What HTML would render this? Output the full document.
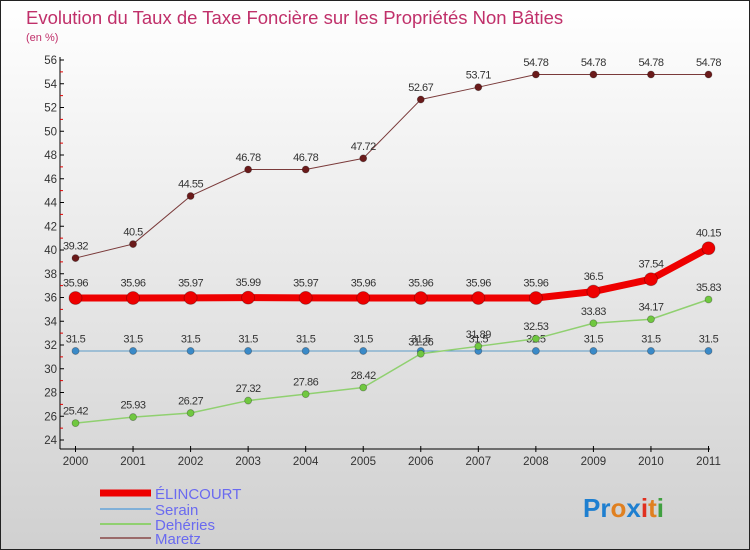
<!DOCTYPE html>
<html><head><meta charset="utf-8"><style>
body{margin:0;}
#c{position:relative;width:750px;height:550px;overflow:hidden;font-family:"Liberation Sans",sans-serif;}
</style></head><body>
<div id="c">
<svg id="s" width="750" height="550" xmlns="http://www.w3.org/2000/svg">
<defs><linearGradient id="bg" x1="0" y1="0" x2="0" y2="1"><stop offset="0" stop-color="#ffffff"/><stop offset="1" stop-color="#d0d0d0"/></linearGradient></defs>
<rect x="0.5" y="0.5" width="749" height="549" fill="url(#bg)" stroke="#222"/>
<text x="26" y="24" font-size="18.5" fill="#c0306a">Evolution du Taux de Taxe Foncière sur les Propriétés Non Bâties</text>
<text x="26" y="41" font-size="11" fill="#c0306a">(en %)</text>
<g id="axes"></g><g id="series"></g><g id="legend"></g>
<g font-size="26" font-weight="bold" font-family="'Liberation Sans',sans-serif">
<text x="583" y="517"><tspan fill="#1e7fd0">Pr</tspan><tspan fill="#e08020">o</tspan><tspan fill="#1e7fd0">x</tspan><tspan fill="#e03020">i</tspan><tspan fill="#e08020">t</tspan><tspan fill="#40a040">i</tspan></text>
</g>
</svg>
</div>
<script>
const years=["2000","2001","2002","2003","2004","2005","2006","2007","2008","2009","2010","2011"];
const yTicks=[24,26,28,30,32,34,36,38,40,42,44,46,48,50,52,54,56];
const elincourt=[35.96,35.96,35.97,35.99,35.97,35.96,35.96,35.96,35.96,36.5,37.54,40.15];
const serain=[31.5,31.5,31.5,31.5,31.5,31.5,31.5,31.5,31.5,31.5,31.5,31.5];
const deheries=[25.42,25.93,26.27,27.32,27.86,28.42,31.26,31.89,32.53,33.83,34.17,35.83];
const maretz=[39.32,40.5,44.55,46.78,46.78,47.72,52.67,53.71,54.78,54.78,54.78,54.78];
const NS="http://www.w3.org/2000/svg";
const X=i=>75.5+i*(708.5-75.5)/(years.length-1);
const Y=v=>440-(v-24)*(380/32);
function mk(tag,attrs,parent){const e=document.createElementNS(NS,tag);for(const k in attrs)e.setAttribute(k,attrs[k]);parent.appendChild(e);return e;}
const ax=document.getElementById('axes');
let e=mk('line',{x1:60,y1:57,x2:60,y2:449,stroke:'#000'},ax);


e=mk('line',{x1:60,y1:449,x2:710,y2:449,stroke:'#000'},ax);


yTicks.forEach((t,i)=>{
  const y=Y(t);
  mk('line',{x1:60,y1:y,x2:64,y2:y,stroke:'#000'},ax);
  if(i<yTicks.length-1) mk('line',{x1:60,y1:Y(t+1),x2:63,y2:Y(t+1),stroke:'#e00000'},ax);
  const tx=mk('text',{x:57,y:y+4,'font-size':11.5,'text-anchor':'end',fill:'#333'},ax);
  tx.textContent=t;
  
  
});
years.forEach((yr,i)=>{
  const x=X(i);
  mk('line',{x1:x,y1:446,x2:x,y2:452,stroke:'#000'},ax);
  const tx=mk('text',{x:x,y:465,'font-size':11.5,'text-anchor':'middle',fill:'#333'},ax);
  tx.textContent=yr;
  
  
});
const sg=document.getElementById('series');
function draw(vals,name,color,fill,w,r){
  const g=mk('g',{},sg);
  
  
  const pts=vals.map((v,i)=>X(i)+','+Y(v)).join(' ');
  mk('polyline',{points:pts,fill:'none',stroke:color,'stroke-width':w,'stroke-linejoin':'round'},g);
  vals.forEach((v,i)=>{
    const c=mk('circle',{cx:X(i),cy:Y(v),r:r,fill:fill,stroke:'rgba(0,0,0,0.3)','stroke-width':0.8},g);
    
    
    const t=mk('text',{x:X(i),y:Y(v)-(r+5),'font-size':11,'text-anchor':'middle',fill:'#333','letter-spacing':'-0.5'},g);
    t.textContent=v;
    
    
  });
}
draw(maretz,'maretz','#7a3a3a','#6a1a1a',1,3.5);
draw(serain,'serain','#5a9ac8','#3a8ac8',1,3.5);
draw(deheries,'deheries','#90d070','#70c840',1.5,3.5);
draw(elincourt,'elincourt','#ee0000','#ee0000',7,6.5);
const lg=document.getElementById('legend');
[["ÉLINCOURT","#ee0000",7,493],["Serain","#80b0d8",2,509],["Dehéries","#90d070",2,524],["Maretz","#9a6a6a",2,538]].forEach(([n,c,w,y])=>{
  const g=mk('g',{},lg);
  
  
  mk('line',{x1:100,y1:y,x2:151,y2:y,stroke:c,'stroke-width':w},g);
  const t=mk('text',{x:155,y:y+6,'font-size':15,fill:'#6a6af0'},g);
  t.textContent=n;
});
</script>
</body></html>
